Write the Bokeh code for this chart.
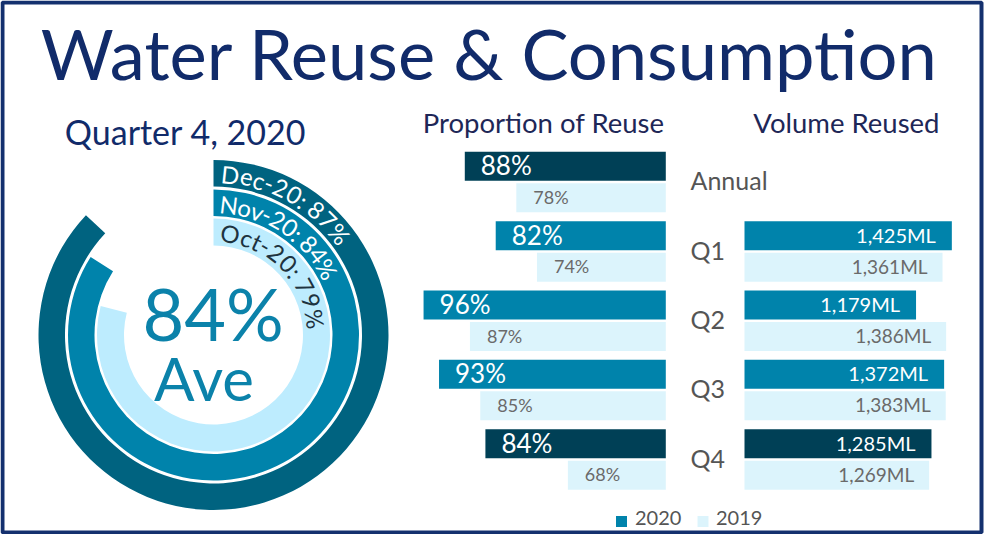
import math
from bokeh.plotting import figure
from bokeh.models import Range1d, ColumnDataSource
from bokeh.core.properties import value
from bokeh.embed import file_html
from bokeh.resources import INLINE

# ---------------- data ----------------
title_text = "Water Reuse & Consumption"
subtitle_text = "Quarter 4, 2020"
prop_title = "Proportion of Reuse"
vol_title = "Volume Reused"

categories = ["Annual", "Q1", "Q2", "Q3", "Q4"]
prop_2020 = [88, 82, 96, 93, 84]
prop_2019 = [78, 74, 87, 85, 68]

vol_categories = ["Q1", "Q2", "Q3", "Q4"]
vol_2020 = [1425, 1179, 1372, 1285]
vol_2019 = [1361, 1386, 1383, 1269]

highlight = ["Annual", "Q4"]
years = ["2020", "2019"]

months = ["Oct-20", "Nov-20", "Dec-20"]
month_reuse = [79, 84, 87]
average_label = "84%"
average_word = "Ave"

# ---------------- style ----------------
FONT = "Lato"
NAVY = "#112B6A"
HEAD = "#1E2757"
DARK = "#004056"
MEDIUM = "#0083AB"
LIGHT = "#DCF4FC"
RING_COLORS = ["#BDECFE", "#0083AB", "#006380"]
RING_TEXT = ["#1D3340", "white", "white"]
GRAY = "#555555"
GRAY2 = "#6A6A6A"

W, H = 991, 534
OX, OY = 8, 8  # page margin; coordinates below are page pixels, y negated
MID_FIX = 0.08  # "middle" anchor renders slightly low; lift by this many em

p = figure(width=W, height=H, output_backend="svg", toolbar_location=None,
           x_range=Range1d(OX, OX + W), y_range=Range1d(-(OY + H), -OY),
           min_border=0, tools="")
p.axis.visible = False
p.grid.visible = False
p.outline_line_color = None
p.background_fill_color = "white"
p.border_fill_color = "white"


def lin_range(v_a, px_a, px_per_unit):
    start = v_a + (OX - px_a) / px_per_unit
    end = v_a + (OX + W - px_a) / px_per_unit
    return Range1d(start, end)


# proportion axis runs right-to-left, base 49 % at the right edge
PROP_BASE = 49
p.extra_x_ranges["prop"] = lin_range(PROP_BASE, 673.3, -5.154)
# volume axis, zero at left
p.extra_x_ranges["vol"] = lin_range(0, 752.0, 0.1455)

ROW0, ROW_STEP, BAR_H = 159.3, 69.35, 29
OFF_2020, OFF_2019 = 14.5, 46.0


def row_y(cat, off):
    return -(ROW0 + categories.index(cat) * ROW_STEP + off)


# ---- border ----
p.quad(left=10, right=989, top=-10, bottom=-540, fill_color=None,
       line_color="#14306E", line_width=4)


# ---- titles ----
def txt(x, cap_center, t, size, color, align="left", fix=MID_FIX):
    p.text(x=[x], y=[-(cap_center - fix * size)], text=[t],
           text_font=value(FONT), text_font_size=value(f"{size}px"),
           text_color=color, text_align=align, text_baseline="middle")


txt(497, 61, title_text, 70.5, NAVY, "center", fix=0.02)
txt(193, 142, subtitle_text, 34, NAVY, "center")
txt(672, 132, prop_title, 27.5, HEAD, "right")
txt(947, 132, vol_title, 27.5, HEAD, "right")

# ---- proportion bars ----
c2020 = [DARK if c in highlight else MEDIUM for c in categories]
src_p = ColumnDataSource(dict(
    y20=[row_y(c, OFF_2020) for c in categories],
    y19=[row_y(c, OFF_2019) for c in categories],
    v20=prop_2020, v19=prop_2019, color=c2020,
    t20=[f"{v}%" for v in prop_2020], t19=[f"{v}%" for v in prop_2019]))
p.hbar(y="y20", left=PROP_BASE, right="v20", height=BAR_H, fill_color="color",
       line_color=None, source=src_p, x_range_name="prop")
p.hbar(y="y19", left=PROP_BASE, right="v19", height=BAR_H, fill_color=LIGHT,
       line_color=None, source=src_p, x_range_name="prop")
p.text(x="v20", y="y20", text="t20", source=src_p, x_range_name="prop",
       x_offset=16, y_offset=-1, text_font=value(FONT),
       text_font_size=value("26px"), text_color="white", text_align="left",
       text_baseline="middle")
p.text(x="v19", y="y19", text="t19", source=src_p, x_range_name="prop",
       x_offset=17, y_offset=-1, text_font=value(FONT),
       text_font_size=value("18px"), text_color=GRAY2, text_align="left",
       text_baseline="middle")

# ---- category labels ----
p.text(x=[698] * len(categories),
       y=[row_y(c, 30.5 - MID_FIX * 25) for c in categories], text=categories,
       text_font=value(FONT), text_font_size=value("25px"), text_color=GRAY,
       text_align="left", text_baseline="middle")

# ---- volume bars ----
v2020c = [DARK if c in highlight else MEDIUM for c in vol_categories]
src_v = ColumnDataSource(dict(
    y20=[row_y(c, OFF_2020) for c in vol_categories],
    y19=[row_y(c, OFF_2019) for c in vol_categories],
    v20=vol_2020, v19=vol_2019, color=v2020c,
    t20=[f"{v:,}ML" for v in vol_2020], t19=[f"{v:,}ML" for v in vol_2019]))
p.hbar(y="y20", left=0, right="v20", height=BAR_H, fill_color="color",
       line_color=None, source=src_v, x_range_name="vol")
p.hbar(y="y19", left=0, right="v19", height=BAR_H, fill_color=LIGHT,
       line_color=None, source=src_v, x_range_name="vol")
p.text(x="v20", y="y20", text="t20", source=src_v, x_range_name="vol",
       x_offset=-16, y_offset=-1, text_font=value(FONT),
       text_font_size=value("20px"), text_color="white", text_align="right",
       text_baseline="middle")
p.text(x="v19", y="y19", text="t19", source=src_v, x_range_name="vol",
       x_offset=-15, y_offset=-1, text_font=value(FONT),
       text_font_size=value("19px"), text_color=GRAY2, text_align="right",
       text_baseline="middle")

# ---- legend ----
p.scatter(x=[629, 710.5], y=[-529, -529], marker="square", size=11,
          fill_color=[MEDIUM, LIGHT], line_color=None)
p.text(x=[642.5, 723.5], y=[-(527 - MID_FIX * 20)] * 2, text=years,
       text_font=value(FONT), text_font_size=value("20px"), text_color=GRAY,
       text_align="left", text_baseline="middle")

# ---- radial bars ----
CX, CY = 221, 342.5
inner_r = [89.5, 119, 148.5]
outer_r = [116.5, 145.5, 175]
src_r = ColumnDataSource(dict(
    x=[CX] * 3, y=[-CY] * 3, ir=inner_r, orr=outer_r,
    start=[math.pi / 2] * 3,
    end=[math.pi / 2 - 2 * math.pi * v / 100 for v in month_reuse],
    color=RING_COLORS))
p.annular_wedge(x="x", y="y", inner_radius="ir", outer_radius="orr",
                start_angle="start", end_angle="end", direction="clock",
                fill_color="color", line_color=None, source=src_r)

# curved labels along each ring
CHAR_W = {"D": .74, "e": .52, "c": .45, "-": .34, "0": .58, "1": .58,
          "2": .58, "3": .58, "4": .58, "5": .58, "6": .58, "7": .58,
          "8": .58, "9": .58, ":": .24, " ": .193, "%": .757, "N": .76,
          "o": .55, "v": .50, "O": .80, "t": .34}
LBL_SIZE = 24
text_center_r = [101.1, 129.4, 159.5]
start_px = [5.7, 6.0, 7.0]
tracking = [1.13, 1.02, 1.09]
cx_l, cy_l, ang_l, ch_l, col_l = [], [], [], [], []
for i, (m, v) in enumerate(zip(months, month_reuse)):
    label = f"{m}: {v}%"
    r = text_center_r[i]
    ra = r + MID_FIX * LBL_SIZE
    s = start_px[i]
    for ch in label:
        w = CHAR_W.get(ch, .55) * LBL_SIZE * tracking[i]
        th = (s + w / 2) / r
        s += w
        cx_l.append(CX + ra * math.sin(th))
        cy_l.append(-CY + ra * math.cos(th))
        ang_l.append(-th)
        ch_l.append(ch)
        col_l.append(RING_TEXT[i])
p.text(x=cx_l, y=cy_l, text=ch_l, angle=ang_l, text_color=col_l,
       text_font=value(FONT), text_font_size=value(f"{LBL_SIZE}px"),
       text_align="center", text_baseline="middle")

# centre text
txt(220.5, 323, average_label, 72, "#0B82AA", "center", fix=0.04)
txt(211.5, 385, average_word, 60, "#0B82AA", "center", fix=0.0)

open("out.html", "w").write(file_html(p, INLINE))
